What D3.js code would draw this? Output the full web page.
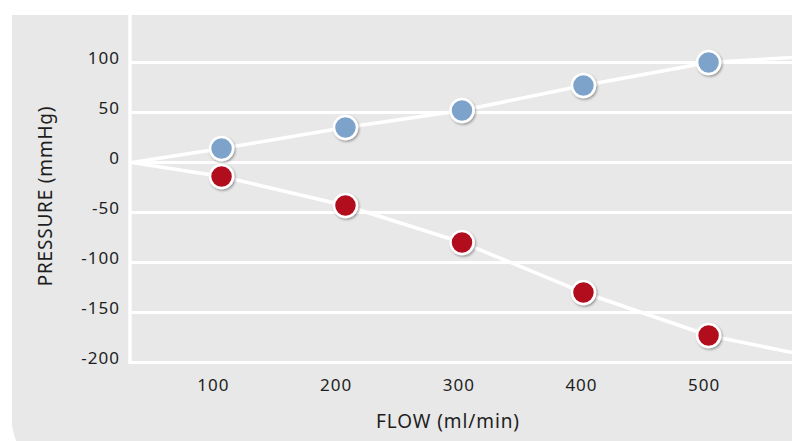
<html>
<head>
<title>Flow vs pressure</title>
<script type="text/javascript" src="https://cdn.jsdelivr.net/npm/d3@7"></script>
<style type="text/css">
body { margin:0; background:#fff; }
text { font-family: "Noto Sans", sans-serif; fill:#1e1e1e; }
</style>
</head>
<body>
<script>
  // measured points
  var flows = [107, 208, 303, 402, 504];
  var blueVals = [14, 35, 52, 77, 100];
  var redVals = [-14, -43, -80, -130, -173];

  // lines run from the common origin to past the right edge
  var lineFlows = [34, 107, 208, 303, 402, 504, 572];
  var blueLine = [0, 14, 35, 52, 77, 100, 105];
  var redLine = [0, -14, -43, -80, -130, -173, -190];

  var xTicks = [100, 200, 300, 400, 500];
  var yTicks = [100, 50, 0, -50, -100, -150, -200];

  var W = 792, H = 441;
  var svg = d3.select("body").append("svg").attr("width", W).attr("height", H);

  var defs = svg.append("defs");
  var f = defs.append("filter").attr("id", "shadow").attr("x", "-50%").attr("y", "-50%").attr("width", "200%").attr("height", "200%");
  f.append("feDropShadow").attr("dx", 1.2).attr("dy", 1.5).attr("stdDeviation", 1.2).attr("flood-color", "#000").attr("flood-opacity", 0.35);

  // grey panel with rounded lower-left corner
  svg.append("path").attr("fill", "#e8e8e8")
    .attr("d", "M12,15 H" + (W + 20) + " V" + (H + 20) + " H30 Q12," + (H + 1) + " 12," + (H - 20) + " Z");

  var x = d3.scaleLinear().domain([34, 572]).range([132, 792]);
  var y = d3.scaleLinear().domain([-200, 100]).range([362.5, 62.5]);

  // grid
  svg.selectAll(".grid").data(yTicks).enter().append("line")
    .attr("x1", 129).attr("x2", W).attr("y1", function(d){ return y(d); }).attr("y2", function(d){ return y(d); })
    .attr("stroke", "#fff").attr("stroke-width", 3);
  svg.append("line").attr("x1", 130).attr("x2", 130).attr("y1", 15).attr("y2", y(-200) + 1.5)
    .attr("stroke", "#fff").attr("stroke-width", 3.5);

  // tick labels
  svg.selectAll(".yt").data(yTicks).enter().append("text")
    .text(function(d){ return d; }).attr("x", 120).attr("y", function(d){ return y(d); }).attr("dy", 1.5)
    .attr("text-anchor", "end").attr("font-size", 17).attr("letter-spacing", 1);
  svg.selectAll(".xt").data(xTicks).enter().append("text")
    .text(function(d){ return d; }).attr("x", function(d){ return x(d) + 0.5; }).attr("y", 391)
    .attr("text-anchor", "middle").attr("font-size", 17).attr("letter-spacing", 1);

  svg.append("text").text("FLOW (ml/min)").attr("x", 448).attr("y", 428).attr("text-anchor", "middle")
    .attr("font-size", 19).attr("letter-spacing", 0.9);
  svg.append("text").text("PRESSURE (mmHg)").attr("transform", "translate(52,196) rotate(-90)").attr("text-anchor", "middle")
    .attr("font-size", 19).attr("letter-spacing", 0.8);

  var line = d3.line().x(function(d){ return x(d[0]); }).y(function(d){ return y(d[1]); });
  var plot = svg.append("g");
  [blueLine, redLine].forEach(function(vals){
    plot.append("path").attr("d", line(d3.zip(lineFlows, vals)))
      .attr("fill", "none").attr("stroke", "#fff").attr("stroke-width", 3.5);
  });

  function dots(vals, color){
    plot.selectAll(null).data(d3.zip(flows, vals)).enter().append("circle")
      .attr("cx", function(d){ return x(d[0]); }).attr("cy", function(d){ return y(d[1]); })
      .attr("r", 11.5).attr("fill", color).attr("stroke", "#fff").attr("stroke-width", 2.5)
      .attr("filter", "url(#shadow)");
  }
  dots(blueVals, "#7ea3cb");
  dots(redVals, "#b2071e");
</script>
</body>
</html>
